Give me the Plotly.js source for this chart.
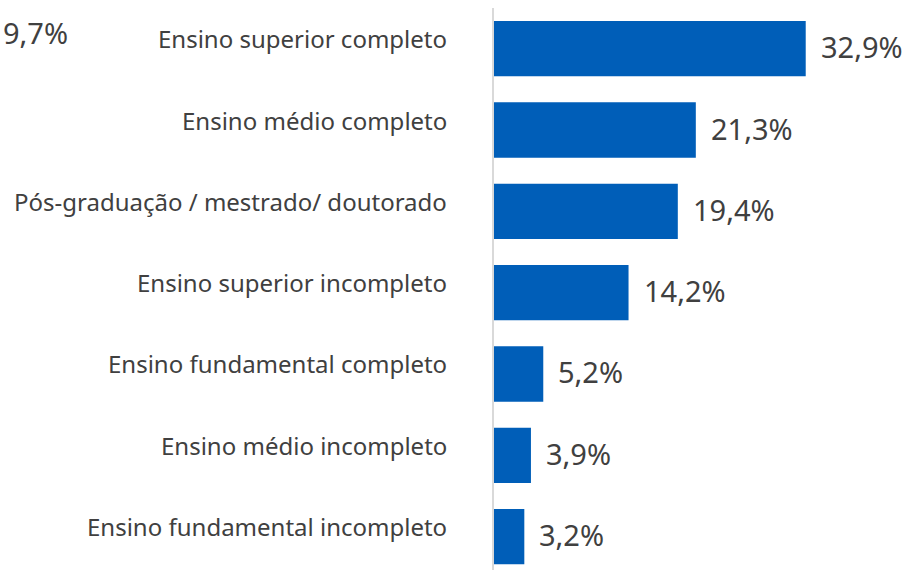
<!DOCTYPE html>
<html>
<head>
<meta charset="utf-8">
<script src="https://cdn.plot.ly/plotly-3.0.1.min.js"></script>
<style>html,body{margin:0;padding:0;background:#fff;}#chart{width:909px;height:570px;}</style>
</head>
<body>
<div id="chart"></div>
<script>
const categories = [
  "Ensino superior completo",
  "Ensino médio completo",
  "Pós-graduação / mestrado/ doutorado",
  "Ensino superior incompleto",
  "Ensino fundamental completo",
  "Ensino médio incompleto",
  "Ensino fundamental incompleto"
];
const values = [32.9, 21.3, 19.4, 14.2, 5.2, 3.9, 3.2];
const valueLabels = ["32,9%", "21,3%", "19,4%", "14,2%", "5,2%", "3,9%", "3,2%"];
const strayLabel = "9,7%";

const textColor = "#404040";
const fontFamily = "Noto Sans, Open Sans, sans-serif";
const annotations = [];
categories.forEach((c, i) => {
  annotations.push({
    x: 0, xref: "paper", y: i, yref: "y",
    text: c, showarrow: false, xanchor: "right", yanchor: "middle",
    xshift: -45, yshift: 10,
    font: {family: fontFamily, size: 24, color: textColor}
  });
  annotations.push({
    x: values[i], xref: "x", y: i, yref: "y",
    text: valueLabels[i], showarrow: false, xanchor: "left", yanchor: "middle",
    xshift: 13, yshift: 2,
    font: {family: fontFamily, size: 29, color: textColor}
  });
});
annotations.push({
  x: -1.187, xref: "paper", y: 0.957, yref: "paper",
  text: strayLabel, showarrow: false, xanchor: "left", yanchor: "middle",
  font: {family: fontFamily, size: 29, color: textColor}
});

const trace = {
  type: "bar", orientation: "h",
  x: values, y: categories.map((c, i) => i),
  width: 0.68,
  marker: {color: "#005EB8"},
  hoverinfo: "none"
};

const layout = {
  width: 909, height: 570,
  margin: {l: 494, r: 0, t: 8, b: 0, pad: 0},
  paper_bgcolor: "#fff", plot_bgcolor: "#fff",
  showlegend: false,
  xaxis: {range: [0, 43.8], visible: false, showgrid: false, zeroline: false},
  yaxis: {range: [6.41, -0.5], showticklabels: false, ticks: "", showgrid: false, zeroline: false,
          showline: true, linecolor: "#d9d9d9", linewidth: 2},
  annotations: annotations
};

Plotly.newPlot("chart", [trace], layout, {displayModeBar: false, staticPlot: true});
</script>
</body>
</html>
